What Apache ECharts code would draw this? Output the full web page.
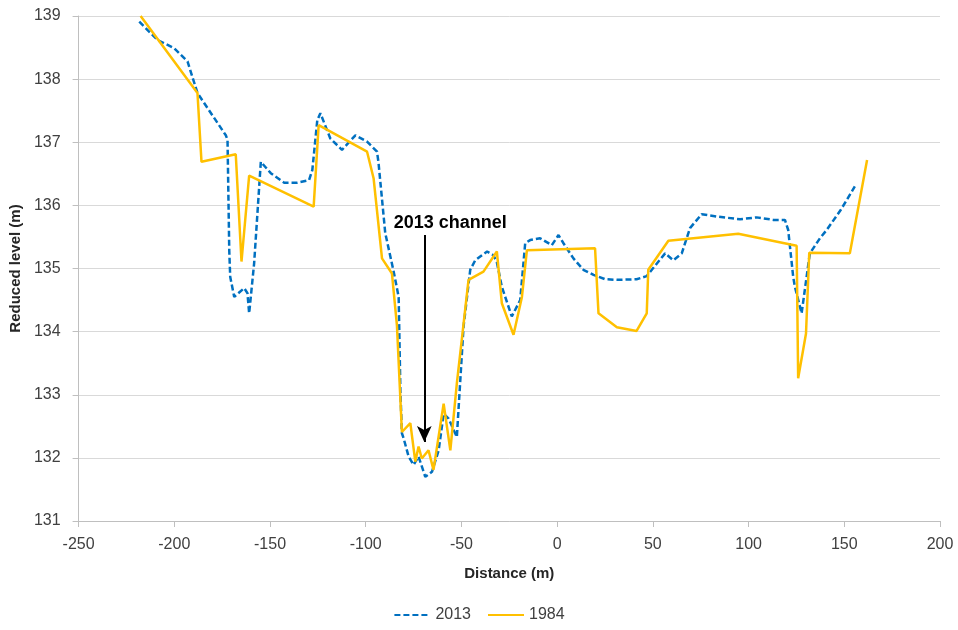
<!DOCTYPE html>
<html>
<head>
<meta charset="utf-8">
<script src="https://cdn.jsdelivr.net/npm/echarts@6/dist/echarts.min.js"></script>
<style>
html,body{margin:0;padding:0;background:#fff;}
#chart{width:958px;height:630px;}
</style>
</head>
<body>
<div id="chart"></div>
<script>
// Distance (m) and reduced level (m) for the 2013 survey
var dist2013 = [-218.3,-208.8,-200.1,-193.1,-187.9,-173.1,-172.2,-171.3,-170.8,-168.7,-163.5,-161.8,-160.9,-158.3,-154.8,-149.6,-142.6,-135.7,-129.6,-127.9,-125.3,-123.7,-118.5,-112.4,-105.4,-99.3,-94.1,-93.3,-89.8,-85.4,-82.8,-81.9,-81.1,-80.2,-77.6,-75.0,-72.4,-68.9,-65.4,-61.9,-59.3,-56.7,-52.4,-48.9,-45.4,-42.8,-39.3,-36.6,-33.3,-31.5,-28.9,-23.7,-19.3,-16.7,-14.1,-8.9,-2.8,0.7,3.3,8.5,13.7,19.0,25.1,31.2,41.5,46.8,56.4,60.7,65.1,69.4,75.5,84.2,95.5,104.2,112.9,119.0,120.7,123.3,124.2,127.7,132.0,137.3,140.8,148.2,155.5];
var level2013 = [138.91,138.62,138.49,138.28,137.78,137.11,137.04,135.29,134.87,134.55,134.69,134.61,134.29,135.08,136.69,136.51,136.36,136.36,136.40,136.56,137.35,137.46,137.06,136.88,137.11,137.01,136.85,136.67,135.56,134.95,134.55,133.07,132.39,132.31,132.02,131.89,132.02,131.70,131.78,132.12,132.70,132.62,132.33,134.08,134.98,135.13,135.21,135.27,135.21,135.10,134.71,134.24,134.50,135.40,135.45,135.48,135.37,135.53,135.40,135.16,134.98,134.90,134.83,134.82,134.83,134.88,135.24,135.13,135.24,135.64,135.86,135.82,135.78,135.81,135.77,135.77,135.61,134.87,134.71,134.29,135.24,135.48,135.61,135.93,136.30];

// Distance (m) and reduced level (m) for the 1984 survey
var dist1984 = [-217.6,-187.9,-185.8,-167.9,-164.9,-160.9,-127.2,-124.6,-99.3,-95.9,-91.5,-86.3,-83.7,-81.1,-76.7,-74.1,-72.4,-70.7,-67.2,-64.6,-59.3,-55.8,-52.4,-46.3,-38.5,-31.5,-28.9,-22.8,-18.4,-15.8,19.8,21.6,31.2,41.5,46.8,47.6,58.1,94.6,125.1,125.9,130.0,131.7,152.9,161.9];
var level1984 = [139.0,137.78,136.69,136.81,135.11,136.47,135.98,137.27,136.85,136.43,135.16,134.92,134.10,132.41,132.55,131.94,132.18,131.99,132.12,131.81,132.86,132.12,133.18,134.82,134.95,135.27,134.45,133.95,134.55,135.29,135.32,134.29,134.07,134.01,134.29,134.98,135.44,135.55,135.36,133.26,133.97,135.25,135.24,136.72];

var seriesNames = ['2013', '1984'];
var xTicks = {min: -250, max: 200, interval: 50};
var yTicks = {min: 131, max: 139, interval: 1};

// annotation: arrow from / to, and label anchor (data coords)
var arrowFrom = [-69.4, 135.53];
var arrowTo = [-69.4, 132.25];
var annotText = '2013 channel';
var annotAt = [-55.8, 135.72];

function pairs(xs, ys){ var out=[]; for (var i=0;i<xs.length;i++) out.push([xs[i], ys[i]]); return out; }

var FONT = '"Liberation Sans", Arial, sans-serif';
var chart = echarts.init(document.getElementById('chart'), null, {renderer:'canvas'});
chart.setOption({
  animation: false,
  backgroundColor: '#ffffff',
  textStyle: {fontFamily: FONT},
  grid: {left: 78, right: 18, top: 16, bottom: 109, containLabel: false},
  legend: {
    data: seriesNames,
    left: 'center',
    top: 602,
    itemWidth: 36,
    itemHeight: 14,
    itemGap: 16,
    itemStyle: {opacity: 0, borderWidth: 0},
    textStyle: {fontSize: 16, color: '#404040', fontFamily: FONT}
  },
  xAxis: {
    type: 'value',
    min: xTicks.min, max: xTicks.max, interval: xTicks.interval,
    name: 'Distance (m)',
    nameLocation: 'middle',
    nameGap: 45,
    nameTextStyle: {fontSize: 15, fontWeight: 'bold', color: '#262626', fontFamily: FONT},
    axisLine: {show: true, onZero: false, lineStyle: {color: '#bfbfbf', width: 1}},
    axisTick: {show: true, length: 6, lineStyle: {color: '#bfbfbf'}},
    axisLabel: {fontSize: 16, color: '#404040', margin: 16, fontFamily: FONT},
    splitLine: {show: false}
  },
  yAxis: {
    type: 'value',
    min: yTicks.min, max: yTicks.max, interval: yTicks.interval,
    name: 'Reduced level (m)',
    nameLocation: 'middle',
    nameGap: 50,
    nameTextStyle: {fontSize: 15, fontWeight: 'bold', color: '#262626', fontFamily: FONT},
    axisLine: {show: true, onZero: false, lineStyle: {color: '#bfbfbf', width: 1}},
    axisTick: {show: true, length: 6, lineStyle: {color: '#bfbfbf'}},
    axisLabel: {fontSize: 16, color: '#404040', margin: 18, fontFamily: FONT},
    splitLine: {show: true, lineStyle: {color: '#d9d9d9', width: 1}}
  },
  series: [
    {
      name: seriesNames[0],
      type: 'line',
      data: pairs(dist2013, level2013),
      symbol: 'none',
      z: 3,
      color: '#0070C0',
      lineStyle: {color: '#0070C0', width: 2.5, type: [6, 3]},
      markLine: {
        silent: true,
        animation: false,
        symbol: ['none', 'arrow'],
        symbolSize: [11, 16],
        label: {show: false},
        lineStyle: {color: '#000000', width: 2, type: 'solid'},
        data: [[{coord: arrowFrom}, {coord: arrowTo}]]
      },
      markPoint: {
        silent: true,
        animation: false,
        symbol: 'rect',
        symbolSize: [1, 1],
        itemStyle: {color: 'rgba(0,0,0,0)'},
        label: {show: true, position: 'inside', formatter: annotText, fontSize: 18, fontWeight: 'bold', color: '#000000', fontFamily: FONT},
        data: [{coord: annotAt}]
      }
    },
    {
      name: seriesNames[1],
      type: 'line',
      data: pairs(dist1984, level1984),
      symbol: 'none',
      z: 4,
      color: '#FFC000',
      lineStyle: {color: '#FFC000', width: 2.5, type: 'solid'}
    }
  ]
});
</script>
</body>
</html>
